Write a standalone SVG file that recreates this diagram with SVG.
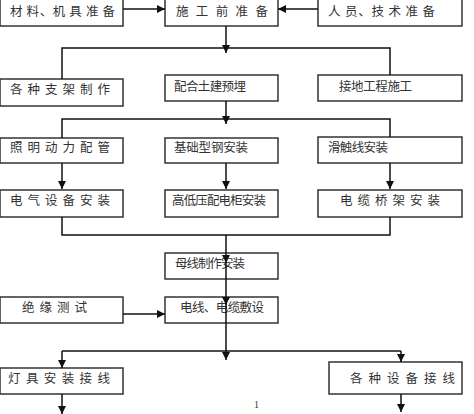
<svg xmlns="http://www.w3.org/2000/svg" width="474" height="414" viewBox="0 0 474 414">
<defs>
<marker id="ah" markerUnits="userSpaceOnUse" markerWidth="9" markerHeight="8" refX="8" refY="4" orient="auto">
<path d="M0,0 L8,4 L0,8 z" fill="#111"/>
</marker>
<style>
.b{fill:#fff;stroke:#333;stroke-width:1.5}
.t{font-family:"Noto Sans CJK SC","Liberation Serif",serif;font-size:12.5px;fill:#333}
.c{fill:none;stroke:#111;stroke-width:1.5}
.a{fill:none;stroke:#111;stroke-width:1.5;marker-end:url(#ah)}
</style>
</defs>
<rect width="474" height="414" fill="#fff"/>
<g id="n1"><rect class="b" x="0" y="-3" width="123" height="29"/><text class="t" x="10" y="15.5" textLength="105" lengthAdjust="spacing">材 料、机 具 准 备</text></g>
<g id="n2"><rect class="b" x="165" y="-3" width="113" height="29"/><text class="t" x="176" y="15.5" textLength="92" lengthAdjust="spacing">施 工 前 准 备</text></g>
<g id="n3"><rect class="b" x="318" y="-3" width="144" height="29"/><text class="t" x="328" y="15.5" textLength="107" lengthAdjust="spacing">人 员、技 术 准 备</text></g>
<g id="n4"><rect class="b" x="0" y="79" width="123" height="27"/><text class="t" x="10" y="93.5" textLength="100" lengthAdjust="spacing">各 种 支 架 制 作</text></g>
<g id="n5"><rect class="b" x="165" y="75" width="113" height="26"/><text class="t" x="174" y="90.5" textLength="72" lengthAdjust="spacing">配合土建预埋</text></g>
<g id="n6"><rect class="b" x="318" y="75" width="144" height="26"/><text class="t" x="339" y="90.5" textLength="73" lengthAdjust="spacing">接地工程施工</text></g>
<g id="n7"><rect class="b" x="0" y="138" width="123" height="25"/><text class="t" x="10" y="151.5" textLength="100" lengthAdjust="spacing">照 明 动 力 配 管</text></g>
<g id="n8"><rect class="b" x="165" y="138" width="113" height="25"/><text class="t" x="174" y="151.5" textLength="74" lengthAdjust="spacing">基础型钢安装</text></g>
<g id="n9"><rect class="b" x="318" y="137" width="144" height="26"/><text class="t" x="328" y="151.5" textLength="60" lengthAdjust="spacing">滑触线安装</text></g>
<g id="n10"><rect class="b" x="0" y="190" width="123" height="27"/><text class="t" x="10" y="204.5" textLength="100" lengthAdjust="spacing">电 气 设 备 安 装</text></g>
<g id="n11"><rect class="b" x="165" y="190" width="113" height="27"/><text class="t" x="172" y="204.5" textLength="94" lengthAdjust="spacing">高低压配电柜安装</text></g>
<g id="n12"><rect class="b" x="318" y="190" width="144" height="27"/><text class="t" x="340" y="204.5" textLength="100" lengthAdjust="spacing">电 缆 桥 架 安 装</text></g>
<g id="n13"><rect class="b" x="165" y="253" width="113" height="26"/><text class="t" x="175" y="267.5" textLength="70" lengthAdjust="spacing">母线制作安装</text></g>
<g id="n14"><rect class="b" x="0" y="297" width="123" height="26"/><text class="t" x="22" y="311.5" textLength="65" lengthAdjust="spacing">绝 缘 测 试</text></g>
<g id="n15"><rect class="b" x="165" y="297" width="113" height="26"/><text class="t" x="180" y="311.5" textLength="84" lengthAdjust="spacing">电线、电缆敷设</text></g>
<g id="n16"><rect class="b" x="0" y="368" width="123" height="26"/><text class="t" x="8" y="382.5" textLength="102" lengthAdjust="spacing">灯 具 安 装 接 线</text></g>
<g id="n17"><rect class="b" x="329" y="362" width="133" height="32"/><text class="t" x="350" y="382.5" textLength="105" lengthAdjust="spacing">各 种 设 备 接 线</text></g>
<g id="connectors">
<path class="a" d="M123,9 H165"/>
<path class="a" d="M318,9 H278"/>
<path class="a" d="M226,26 V53"/>
<path class="c" d="M62,79 V48 H390 V75"/>
<path class="a" d="M226,101 V124"/>
<path class="c" d="M62,138 V119 H390 V137"/>
<path class="a" d="M62,163 V189"/>
<path class="a" d="M226,163 V189"/>
<path class="a" d="M390,163 V189"/>
<path class="c" d="M62,217 V235 H390 V217"/>
<path class="a" d="M226,235 V263"/>
<path class="a" d="M226,263 V305"/>
<path class="a" d="M226,305 V360"/>
<path class="a" d="M123,314 H165"/>
<path class="c" d="M62,351 H401"/>
<path class="a" d="M62,351 V368"/>
<path class="a" d="M401,351 V362"/>
<path class="a" d="M62,394 V414"/>
<path class="a" d="M401,394 V412"/>
</g>
<text x="254" y="408" style="font-family:'Liberation Serif',serif;font-size:10px;fill:#333">1</text>
</svg>
